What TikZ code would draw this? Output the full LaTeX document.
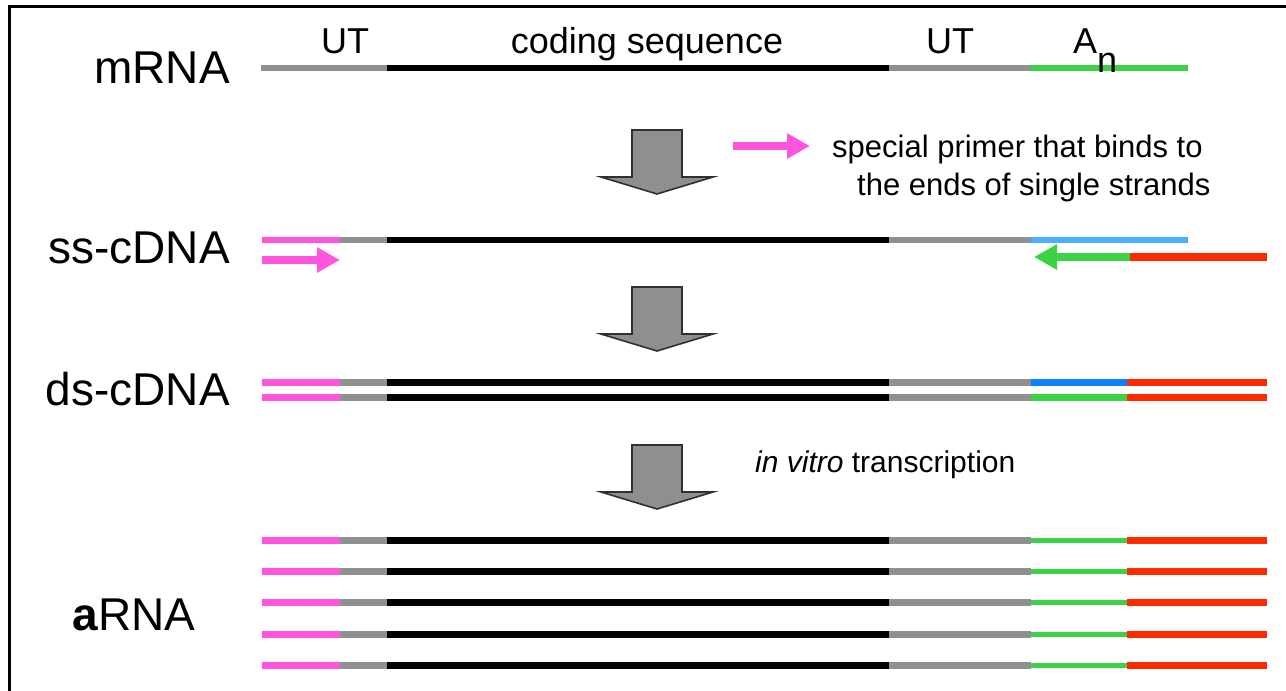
\documentclass[tikz,border=0pt]{standalone}
\usepackage{fontspec}
\setmainfont{Liberation Sans}
\usetikzlibrary{arrows.meta}
\definecolor{pinkc}{HTML}{FF55DD}
\definecolor{grayc}{HTML}{909090}
\definecolor{greenc}{HTML}{3CD246}
\definecolor{redc}{HTML}{FF2A00}
\definecolor{bluelt}{HTML}{4AAEFF}
\definecolor{bluedk}{HTML}{0A82FF}
\definecolor{arrowfill}{HTML}{8F8F8F}
\definecolor{arrowedge}{HTML}{303030}
\tikzset{
  biglabel/.style={font=\fontsize{46}{50}\selectfont, inner sep=0pt},
  toplabel/.style={font=\fontsize{36}{40}\selectfont, inner sep=0pt, anchor=base},
  note/.style={font=\fontsize{31}{36}\selectfont, inner sep=0pt, anchor=base west},
  primer/.style={line width=8pt, -{Triangle[length=23pt,width=24pt]}},
  bigarrow/.pic={
    \draw[fill=arrowfill, draw=arrowedge, line width=1.6pt, line join=miter]
      (-25,0) -- (25,0) -- (25,47) -- (56,47) -- (0,64) -- (-56,47) -- (-25,47) -- cycle;
  }
}
\begin{document}
\begin{tikzpicture}[x=1pt,y=-1pt]
\useasboundingbox (0,0) rectangle (1286,691);
% frame
\draw[line width=3pt] (9,691) -- (9,6) -- (1286,6);

% segment boundaries along the strands
\def\xa{262}\def\xb{340}\def\xc{387}\def\xd{889}\def\xe{1031}\def\xf{1127}\def\xg{1267}

% ---- mRNA
\begin{scope}[line width=5.5pt]
  \draw[grayc] (261,68) -- (\xc,68);
  \draw[black] (\xc,68) -- (\xd,68);
  \draw[grayc] (\xd,68) -- (\xe,68);
  \draw[greenc] (\xe,68) -- (1188,68);
\end{scope}
\node[biglabel, anchor=base east] (mrna) at (230,83) {mRNA};
\node[toplabel] (ut1) at (345,53) {UT};
\node[toplabel] (cds) at (647,53) {coding sequence};
\node[toplabel] (ut2) at (950,53) {UT};
\node[toplabel, anchor=base west] (polya) at (1073,53) {A\raisebox{-19pt}{n}};

% ---- step 1
\pic at (657,130) {bigarrow};
\coordinate (p0) at (733,146);
\coordinate (p1) at (810,146);
\draw[primer, pinkc] (p0) -- (p1);
\node[note] (n1) at (832,157) {special primer that binds to};
\node[note] (n2) at (857,195) {the ends of single strands};

% ---- ss-cDNA
\begin{scope}[line width=6.5pt]
  \draw[pinkc] (\xa,240) -- (\xb,240);
  \draw[grayc] (\xb,240) -- (\xc,240);
  \draw[black] (\xc,240) -- (\xd,240);
  \draw[grayc] (\xd,240) -- (\xe,240);
  \draw[bluelt] (\xe,240) -- (1188,240);
\end{scope}
\node[biglabel, anchor=base east] (ss) at (230,263) {ss-cDNA};
\coordinate (f0) at (\xa,260);
\coordinate (f1) at (\xb,260);
\draw[primer, pinkc] (f0) -- (f1);
\coordinate (r0) at (\xg,257);
\coordinate (r1) at (1130,257);
\coordinate (r2) at (1034,257);
\draw[line width=8pt, redc] (r0) -- (r1);
\draw[primer, greenc] (r1) -- (r2);

% ---- step 2
\pic at (657,287) {bigarrow};

% ---- ds-cDNA
\foreach \y/\tail in {382/bluedk, 397/greenc}{
  \begin{scope}[line width=7pt]
    \draw[pinkc] (\xa,\y) -- (\xb,\y);
    \draw[grayc] (\xb,\y) -- (\xc,\y);
    \draw[black] (\xc,\y) -- (\xd,\y);
    \draw[grayc] (\xd,\y) -- (\xe,\y);
    \draw[\tail] (\xe,\y) -- (\xf,\y);
    \draw[redc] (\xf,\y) -- (\xg,\y);
  \end{scope}
}
\node[biglabel, anchor=base east] (ds) at (230,405) {ds-cDNA};

% ---- step 3
\pic at (657,445) {bigarrow};
\node[note, font=\fontsize{30}{34}\selectfont] (ivt) at (755,472) {\textit{in vitro} transcription};

% ---- aRNA copies
\foreach \y in {540,571,602,634,665}{
  \begin{scope}[line width=7pt]
    \draw[pinkc] (\xa,\y) -- (\xb,\y);
    \draw[grayc] (\xb,\y) -- (\xc,\y);
    \draw[black] (\xc,\y) -- (\xd,\y);
    \draw[grayc] (\xd,\y) -- (\xe,\y);
    \draw[greenc, line width=5pt] (\xe,\y) -- (\xf,\y);
    \draw[redc] (\xf,\y) -- (\xg,\y);
  \end{scope}
}
\node[biglabel, anchor=base west] (arna) at (72,630) {\textbf{a}RNA};
\end{tikzpicture}
\end{document}
